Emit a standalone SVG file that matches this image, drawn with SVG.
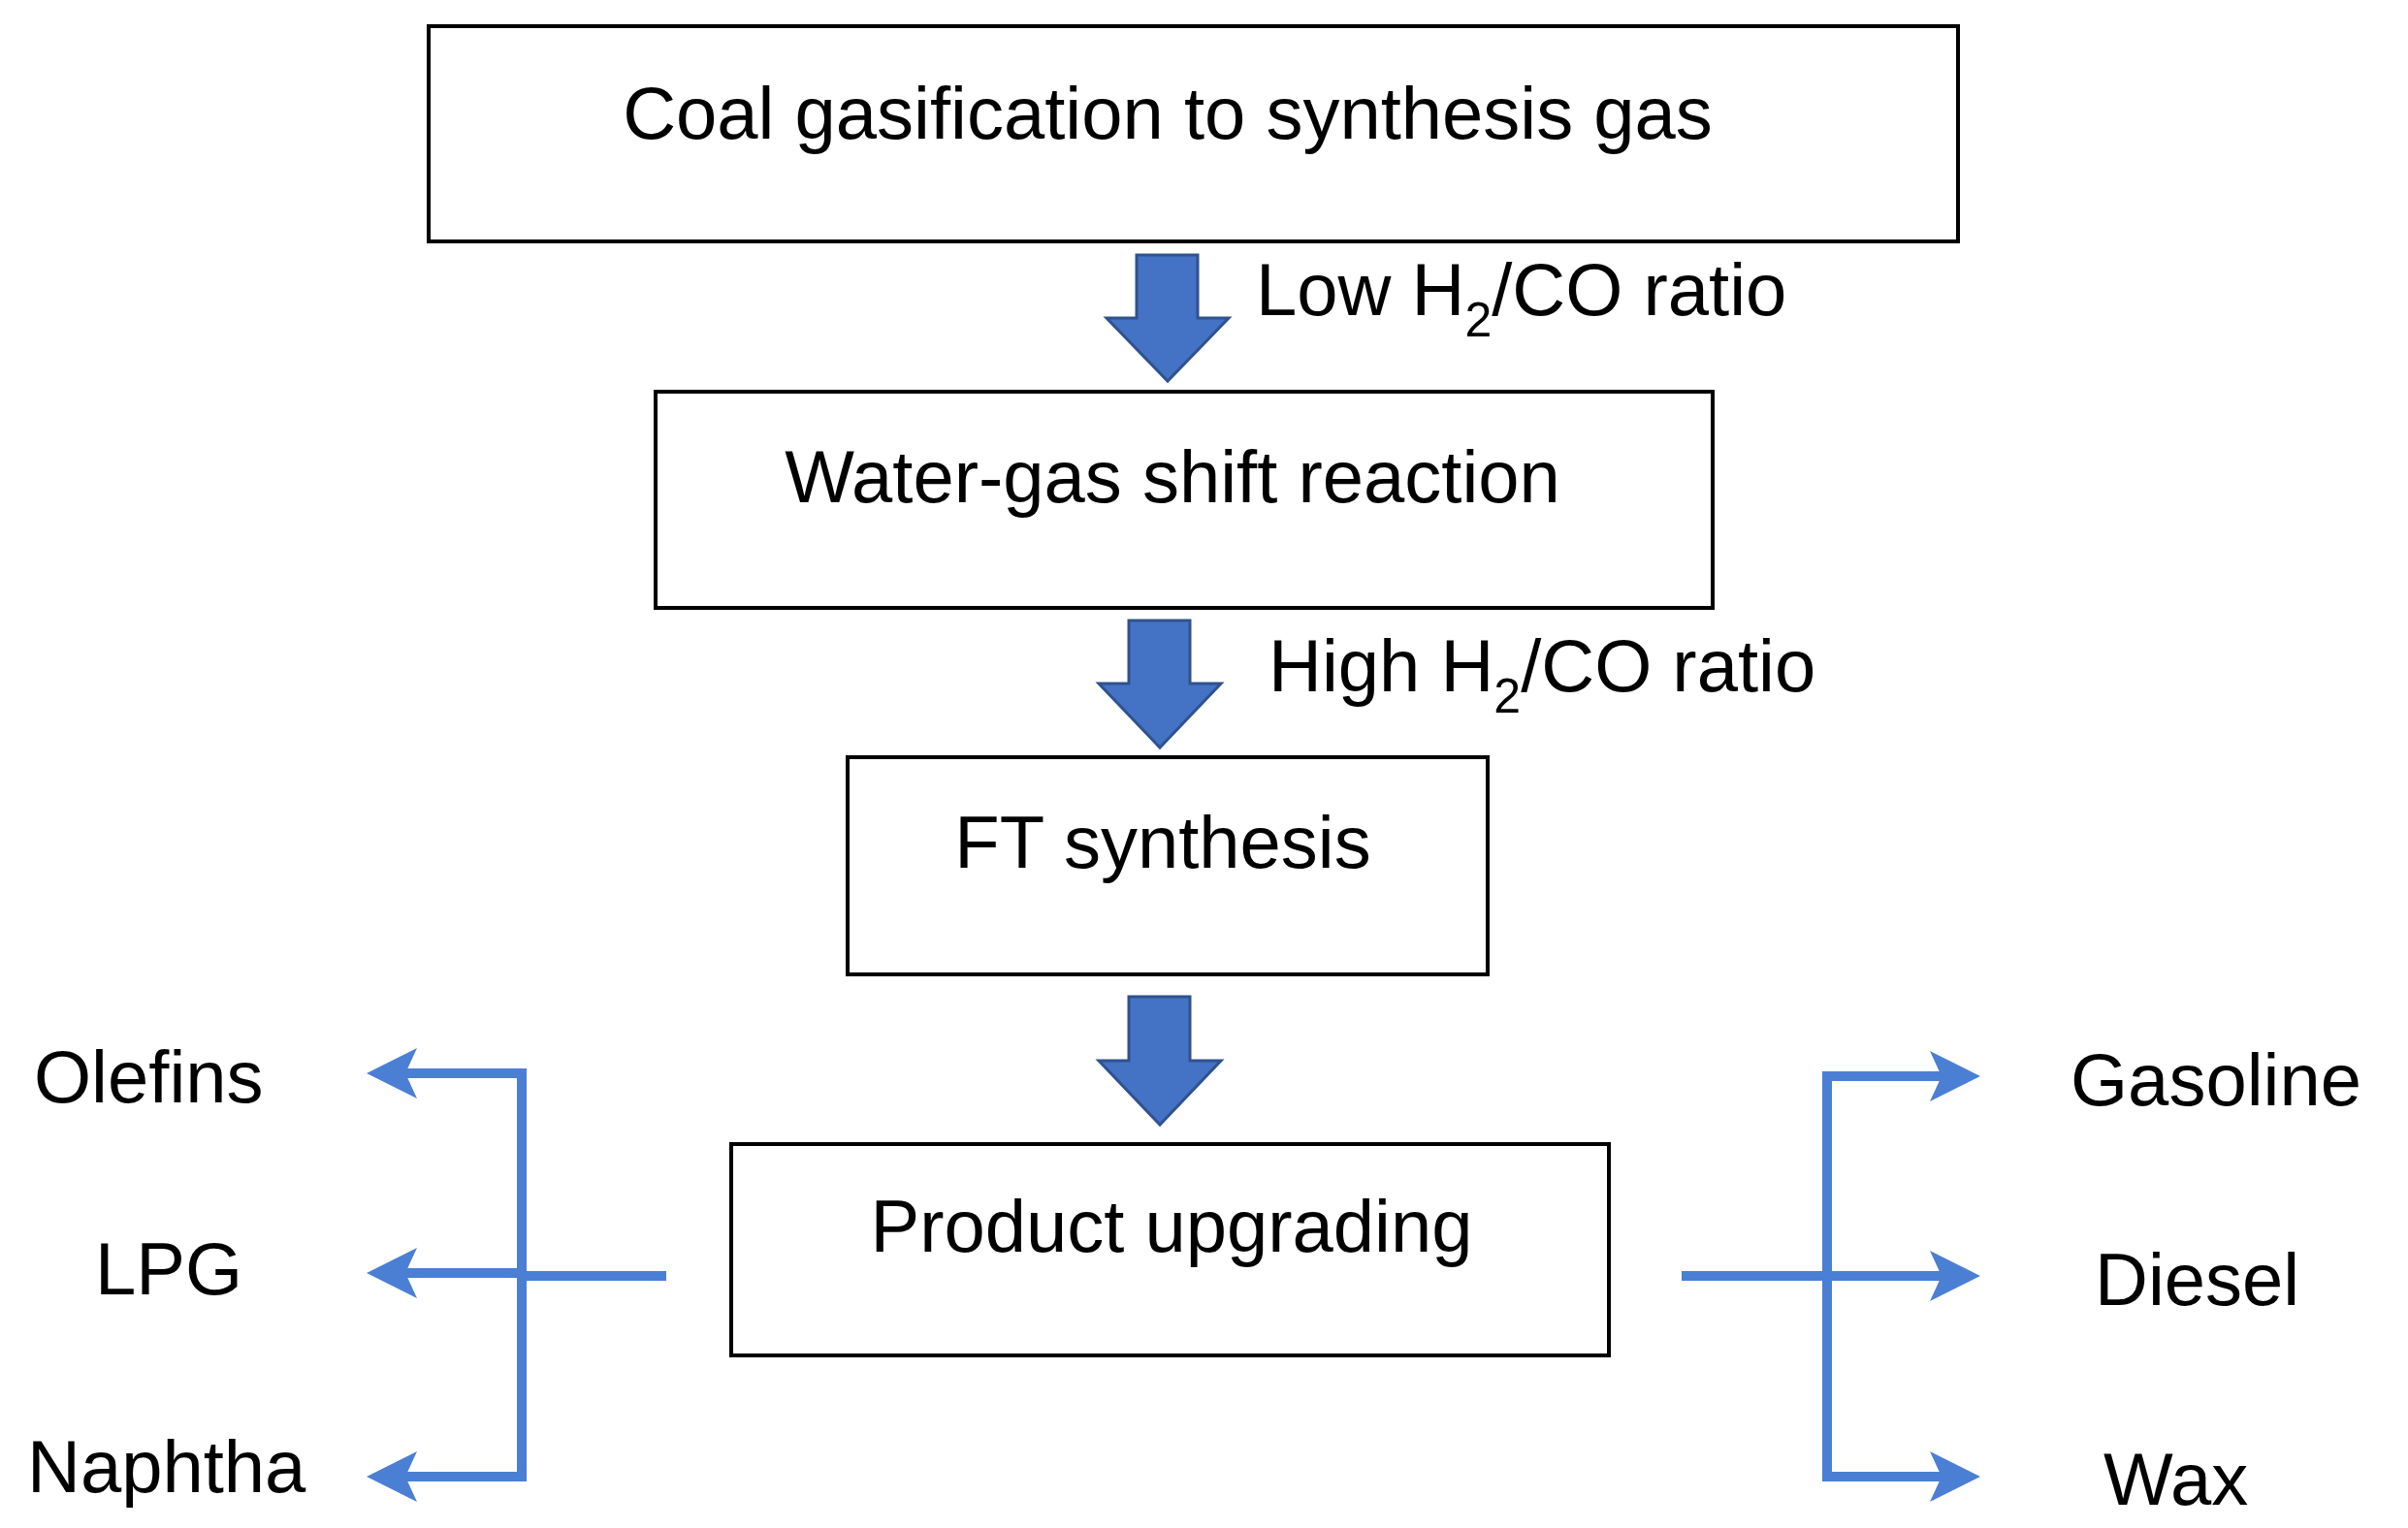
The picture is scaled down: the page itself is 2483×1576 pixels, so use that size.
<svg xmlns="http://www.w3.org/2000/svg" width="2483" height="1576" viewBox="0 0 2483 1576">
<style>
.box{fill:#fff;stroke:#000;stroke-width:4}
.t{font-family:"Liberation Sans",Arial,sans-serif;font-size:76px;fill:#000}
.bar{fill:#4472C4;stroke:#2F528F;stroke-width:3}
.ln{stroke:#4a7fd4;stroke-width:10;fill:none}
</style>
<defs>
<marker id="ah" markerWidth="6" markerHeight="6" refX="3" refY="3" orient="auto" markerUnits="strokeWidth">
<path d="M0,0.4 L5.2,3 L0,5.6 L1.2,3 Z" fill="#4a7fd4"/>
</marker>
</defs>
<rect width="2483" height="1576" fill="#fff"/>
<g id="n1"><rect class="box" x="442" y="27" width="1577" height="222"/><text class="t" x="1204" y="143" text-anchor="middle">Coal gasification to synthesis gas</text></g>
<g id="n2"><rect class="box" x="676" y="404" width="1090" height="223"/><text class="t" x="1209" y="518" text-anchor="middle">Water-gas shift reaction</text></g>
<g id="n3"><rect class="box" x="874" y="781" width="660" height="224"/><text class="t" x="1199" y="895" text-anchor="middle">FT synthesis</text></g>
<g id="n4"><rect class="box" x="754" y="1180" width="905" height="218"/><text class="t" x="1208" y="1291" text-anchor="middle">Product upgrading</text></g>
<g id="outputs">
<text class="t" x="35" y="1137">Olefins</text>
<text class="t" x="98" y="1335">LPG</text>
<text class="t" x="28" y="1539">Naphtha</text>
<text class="t" x="2135" y="1140">Gasoline</text>
<text class="t" x="2160" y="1346">Diesel</text>
<text class="t" x="2169" y="1552">Wax</text>
</g>
<g id="connectors">
<path class="bar" d="M1172,263 H1235 V328 H1267 L1204,393 L1141,328 H1172 Z"/>
<path class="bar" d="M1164,640 H1227 V705 H1259 L1196,771 L1133,705 H1164 Z"/>
<path class="bar" d="M1164,1028 H1227 V1094 H1259 L1196,1160 L1133,1094 H1164 Z"/>
<text class="t" x="1295" y="325">Low H<tspan font-size="50" dy="22">2</tspan><tspan dy="-22">/CO ratio</tspan></text>
<text class="t" x="1308" y="713">High H<tspan font-size="50" dy="22">2</tspan><tspan dy="-22">/CO ratio</tspan></text>
<path class="ln" d="M687,1316 H538"/>
<path class="ln" d="M538,1107 V1523"/>
<path class="ln" d="M543,1107 H400" marker-end="url(#ah)"/>
<path class="ln" d="M543,1313 H400" marker-end="url(#ah)"/>
<path class="ln" d="M543,1523 H400" marker-end="url(#ah)"/>
<path class="ln" d="M1734,1316 H1884"/>
<path class="ln" d="M1884,1107 V1523"/>
<path class="ln" d="M1879,1110 H2020" marker-end="url(#ah)"/>
<path class="ln" d="M1879,1316 H2020" marker-end="url(#ah)"/>
<path class="ln" d="M1879,1523 H2020" marker-end="url(#ah)"/>
</g>
</svg>
